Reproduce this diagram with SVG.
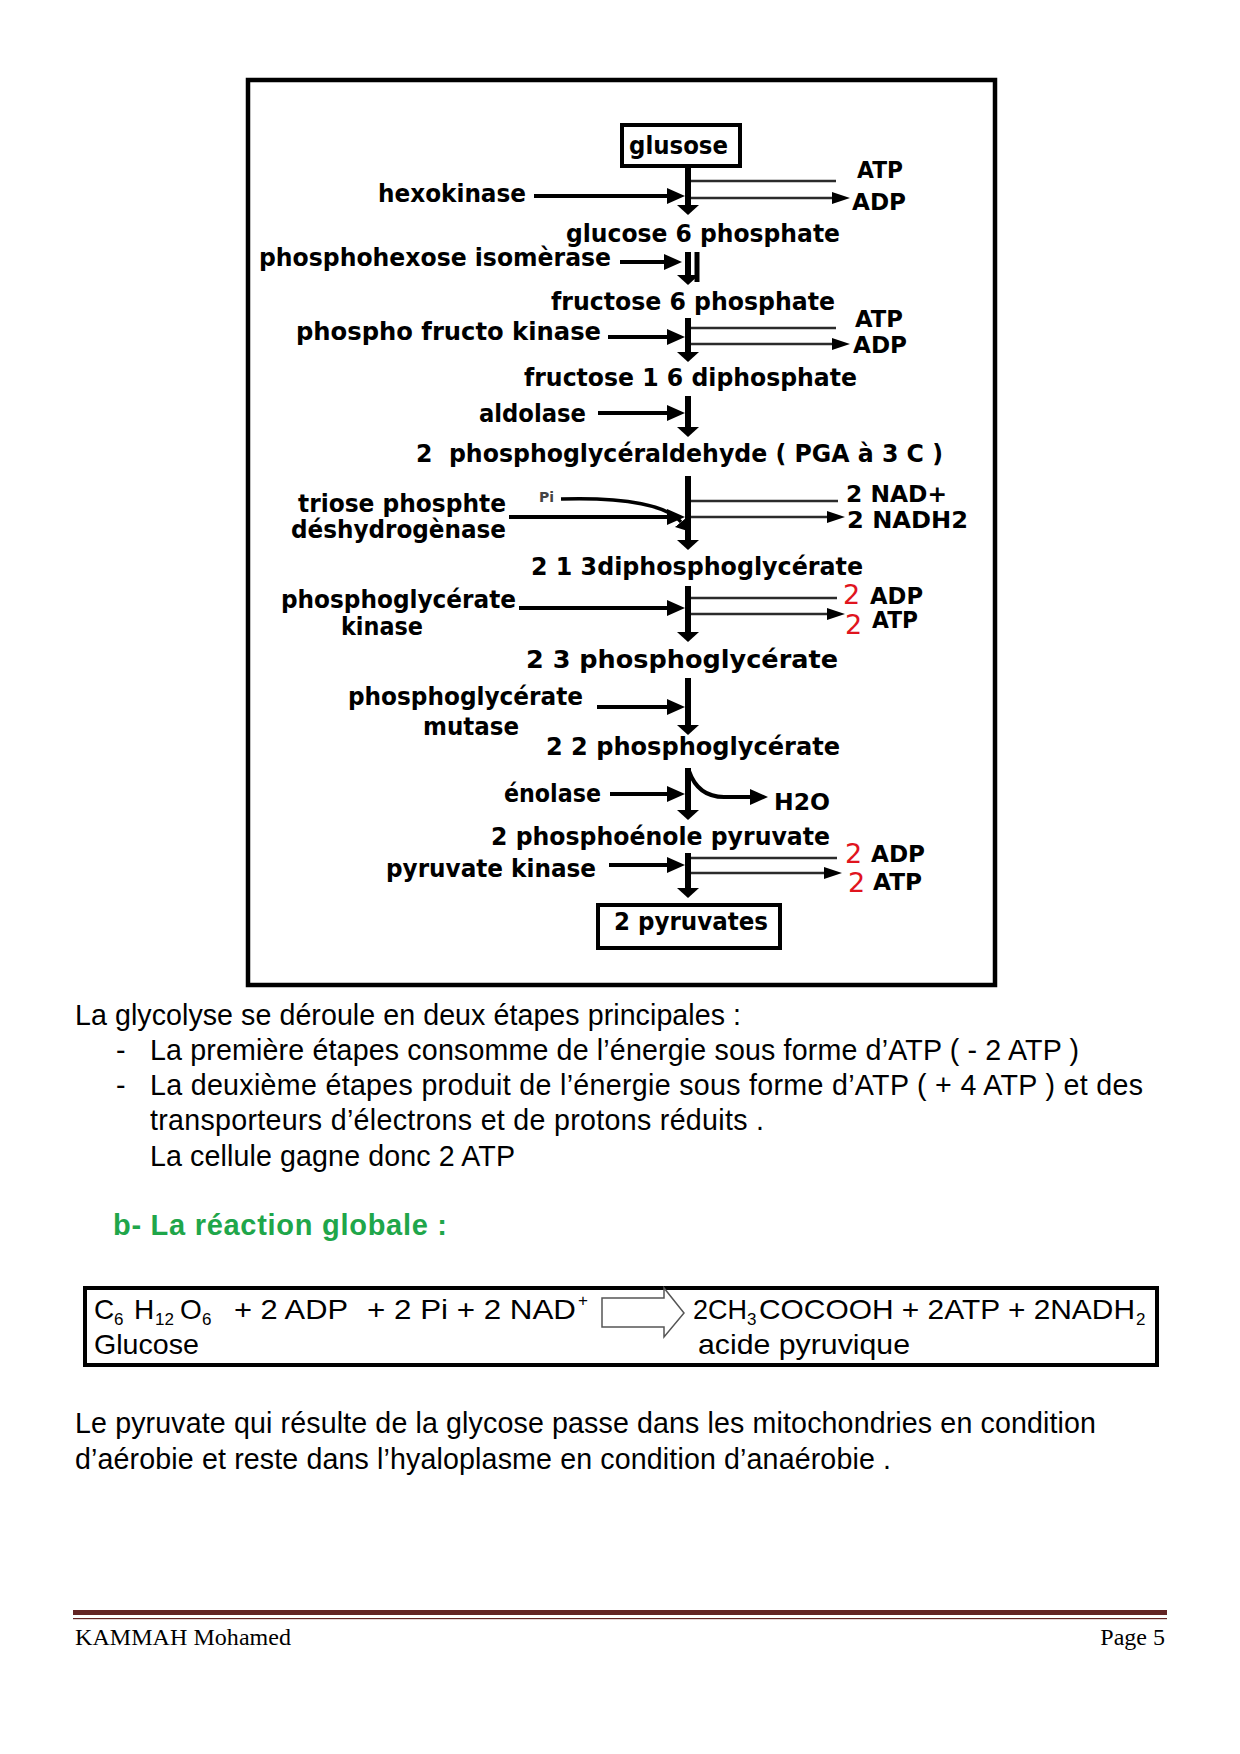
<svg xmlns="http://www.w3.org/2000/svg" width="1240" height="1754" viewBox="0 0 1240 1754">
<style>
.lb{font-family:"DejaVu Sans",sans-serif;font-weight:bold;font-size:24px;fill:#000}
.rs{font-family:"DejaVu Sans",sans-serif;font-weight:bold;font-size:23px;fill:#000}
.red{font-family:"DejaVu Sans",sans-serif;font-size:27px;fill:#e0141e}
.pi{font-family:"DejaVu Sans",sans-serif;font-weight:bold;font-size:14px;fill:#444}
.body{font-family:"Liberation Sans",Arial,sans-serif;font-size:28.6px;fill:#000}
.grn{font-family:"Liberation Sans",Arial,sans-serif;font-weight:bold;font-size:29px;fill:#1fa64a}
.rx{font-family:"Liberation Sans",Arial,sans-serif;font-size:28px;fill:#000}
.sub{font-size:17px}
.ft{font-family:"Liberation Serif","Times New Roman",serif;font-size:24px;fill:#000}
.box{fill:none;stroke:#000;stroke-width:4}
.enz{stroke:#000;stroke-width:4;fill:none}
.ax{stroke:#000;stroke-width:6;fill:none}
.thin{stroke:#2b2b2b;stroke-width:2.5;fill:none}
</style>
<defs>
<marker id="mE" markerUnits="userSpaceOnUse" markerWidth="18" markerHeight="16" viewBox="0 0 18 16" refX="0" refY="8" orient="auto"><path d="M0,0 L18,8 L0,16 z" fill="#000"/></marker>
<marker id="mV" markerUnits="userSpaceOnUse" markerWidth="10" markerHeight="22" viewBox="0 0 10 22" refX="0" refY="11" orient="auto"><path d="M0,0 L10,11 L0,22 z" fill="#000"/></marker>
<marker id="mT" markerUnits="userSpaceOnUse" markerWidth="18" markerHeight="12" viewBox="0 0 18 12" refX="0" refY="6" orient="auto"><path d="M0,0 L18,6 L0,12 z" fill="#000"/></marker>
<marker id="mC" markerUnits="userSpaceOnUse" markerWidth="12" markerHeight="16" viewBox="0 0 12 16" refX="0" refY="8" orient="auto"><path d="M0,0 L12,8 L0,16 z" fill="#000"/></marker>
</defs>
<rect width="1240" height="1754" fill="#fff"/>

<rect id="frame" x="248" y="80" width="747" height="905" fill="none" stroke="#000" stroke-width="4.5"/>

<g id="connectors">
  <line class="ax" x1="688" y1="168" x2="688" y2="205" marker-end="url(#mV)"/>
  <line class="ax" x1="688" y1="252" x2="688" y2="275" marker-end="url(#mV)"/>
  <line stroke="#000" stroke-width="5" x1="697" y1="252" x2="697" y2="282"/>
  <line class="ax" x1="688" y1="318" x2="688" y2="352" marker-end="url(#mV)"/>
  <line class="ax" x1="688" y1="396" x2="688" y2="427" marker-end="url(#mV)"/>
  <line class="ax" x1="688" y1="476" x2="688" y2="540" marker-end="url(#mV)"/>
  <line class="ax" x1="688" y1="586" x2="688" y2="632" marker-end="url(#mV)"/>
  <line class="ax" x1="688" y1="678" x2="688" y2="725" marker-end="url(#mV)"/>
  <line class="ax" x1="688" y1="768" x2="688" y2="810" marker-end="url(#mV)"/>
  <line class="ax" x1="688" y1="853" x2="688" y2="888" marker-end="url(#mV)"/>

  <line class="enz" x1="534" y1="196" x2="667" y2="196" marker-end="url(#mE)"/>
  <line class="enz" x1="620" y1="262" x2="664" y2="262" marker-end="url(#mE)"/>
  <line class="enz" x1="608" y1="337" x2="667" y2="337" marker-end="url(#mE)"/>
  <line class="enz" x1="598" y1="413" x2="667" y2="413" marker-end="url(#mE)"/>
  <line class="enz" x1="509" y1="517" x2="667" y2="517" marker-end="url(#mE)"/>
  <line class="enz" x1="519" y1="608" x2="667" y2="608" marker-end="url(#mE)"/>
  <line class="enz" x1="597" y1="707" x2="667" y2="707" marker-end="url(#mE)"/>
  <line class="enz" x1="610" y1="794" x2="667" y2="794" marker-end="url(#mE)"/>
  <line class="enz" x1="609" y1="865" x2="667" y2="865" marker-end="url(#mE)"/>

  <line class="thin" x1="691" y1="181" x2="836" y2="181"/>
  <line class="thin" x1="691" y1="198" x2="832" y2="198" marker-end="url(#mT)"/>
  <line class="thin" x1="691" y1="328" x2="836" y2="328"/>
  <line class="thin" x1="691" y1="344" x2="832" y2="344" marker-end="url(#mT)"/>
  <line class="thin" x1="691" y1="501" x2="838" y2="501"/>
  <line class="thin" x1="691" y1="517" x2="827" y2="517" marker-end="url(#mT)"/>
  <line class="thin" x1="691" y1="598" x2="837" y2="598"/>
  <line class="thin" x1="691" y1="614" x2="827" y2="614" marker-end="url(#mT)"/>
  <line class="thin" x1="691" y1="858" x2="837" y2="858"/>
  <line class="thin" x1="691" y1="873" x2="824" y2="873" marker-end="url(#mT)"/>

  <path d="M561,499 C628,497 668,506 681,522" stroke="#000" stroke-width="3.5" fill="none" marker-end="url(#mC)"/>
  <path d="M689,771 Q698,797 724,797 L750,797" class="enz" marker-end="url(#mE)"/>
</g>

<g id="n-glusose"><rect class="box" x="622" y="125" width="118" height="41"/><text class="lb" x="629" y="154" textLength="99" lengthAdjust="spacingAndGlyphs">glusose</text></g>
<g id="n-g6p"><text class="lb" x="566" y="242" textLength="274" lengthAdjust="spacingAndGlyphs">glucose 6 phosphate</text></g>
<g id="n-f6p"><text class="lb" x="551" y="310" textLength="284" lengthAdjust="spacingAndGlyphs">fructose 6 phosphate</text></g>
<g id="n-f16dp"><text class="lb" x="524" y="386" textLength="333" lengthAdjust="spacingAndGlyphs">fructose 1 6 diphosphate</text></g>
<g id="n-pgal"><text class="lb" x="416" y="462" textLength="527" lengthAdjust="spacingAndGlyphs">2&#160; phosphoglycéraldehyde ( PGA à 3 C )</text></g>
<g id="n-13dpg"><text class="lb" x="531" y="575" textLength="332" lengthAdjust="spacingAndGlyphs">2 1 3diphosphoglycérate</text></g>
<g id="n-3pg"><text class="lb" x="526" y="668" textLength="312" lengthAdjust="spacingAndGlyphs">2 3 phosphoglycérate</text></g>
<g id="n-2pg"><text class="lb" x="546" y="755" textLength="294" lengthAdjust="spacingAndGlyphs">2 2 phosphoglycérate</text></g>
<g id="n-pep"><text class="lb" x="491" y="845" textLength="339" lengthAdjust="spacingAndGlyphs">2 phosphoénole pyruvate</text></g>
<g id="n-pyr"><rect class="box" x="598" y="905" width="182" height="43"/><text class="lb" x="614" y="930" textLength="154" lengthAdjust="spacingAndGlyphs">2 pyruvates</text></g>

<g id="e-hexokinase"><text class="lb" x="378" y="202" textLength="148" lengthAdjust="spacingAndGlyphs">hexokinase</text></g>
<g id="e-phi"><text class="lb" x="259" y="266" textLength="352" lengthAdjust="spacingAndGlyphs">phosphohexose isomèrase</text></g>
<g id="e-pfk"><text class="lb" x="296" y="340" textLength="305" lengthAdjust="spacingAndGlyphs">phospho fructo kinase</text></g>
<g id="e-aldolase"><text class="lb" x="479" y="422" textLength="107" lengthAdjust="spacingAndGlyphs">aldolase</text></g>
<g id="e-tpd"><text class="lb" x="298" y="512" textLength="208" lengthAdjust="spacingAndGlyphs">triose phosphte</text><text class="lb" x="291" y="538" textLength="215" lengthAdjust="spacingAndGlyphs">déshydrogènase</text></g>
<g id="e-pgk"><text class="lb" x="281" y="608" textLength="235" lengthAdjust="spacingAndGlyphs">phosphoglycérate</text><text class="lb" x="341" y="635" textLength="82" lengthAdjust="spacingAndGlyphs">kinase</text></g>
<g id="e-pgm"><text class="lb" x="348" y="705" textLength="235" lengthAdjust="spacingAndGlyphs">phosphoglycérate</text><text class="lb" x="423" y="735" textLength="96" lengthAdjust="spacingAndGlyphs">mutase</text></g>
<g id="e-enolase"><text class="lb" x="504" y="802" textLength="97" lengthAdjust="spacingAndGlyphs">énolase</text></g>
<g id="e-pk"><text class="lb" x="386" y="877" textLength="210" lengthAdjust="spacingAndGlyphs">pyruvate kinase</text></g>

<g id="s-1"><text class="rs" x="857" y="178" textLength="46" lengthAdjust="spacingAndGlyphs">ATP</text><text class="rs" x="852" y="210" textLength="54" lengthAdjust="spacingAndGlyphs">ADP</text></g>
<g id="s-2"><text class="rs" x="855" y="327" textLength="48" lengthAdjust="spacingAndGlyphs">ATP</text><text class="rs" x="853" y="353" textLength="54" lengthAdjust="spacingAndGlyphs">ADP</text></g>
<g id="s-3"><text class="pi" x="539" y="502">Pi</text><text class="rs" x="846" y="502" textLength="101" lengthAdjust="spacingAndGlyphs">2 NAD+</text><text class="rs" x="847" y="528" textLength="121" lengthAdjust="spacingAndGlyphs">2 NADH2</text></g>
<g id="s-4"><text class="red"><tspan x="843" y="604">2</tspan><tspan x="845" y="634">2</tspan></text><text class="rs" x="870" y="604" textLength="53" lengthAdjust="spacingAndGlyphs">ADP</text><text class="rs" x="872" y="628" textLength="46" lengthAdjust="spacingAndGlyphs">ATP</text></g>
<g id="s-5"><text class="rs" x="774" y="810" textLength="56" lengthAdjust="spacingAndGlyphs">H2O</text></g>
<g id="s-6"><text class="red"><tspan x="845" y="863">2</tspan><tspan x="848" y="892">2</tspan></text><text class="rs" x="871" y="862" textLength="54" lengthAdjust="spacingAndGlyphs">ADP</text><text class="rs" x="873" y="890" textLength="49" lengthAdjust="spacingAndGlyphs">ATP</text></g>

<g id="body">
<text class="body" x="75" y="1025" textLength="666">La glycolyse se déroule en deux étapes principales :</text>
<text class="body" x="116" y="1060">-</text>
<text class="body" x="150" y="1060" textLength="929">La première étapes consomme de l’énergie sous forme d’ATP ( - 2 ATP )</text>
<text class="body" x="116" y="1095">-</text>
<text class="body" x="150" y="1095" textLength="993">La deuxième étapes produit de l’énergie sous forme d’ATP ( + 4 ATP ) et des</text>
<text class="body" x="150" y="1130" textLength="614">transporteurs d’électrons et de protons réduits .</text>
<text class="body" x="150" y="1166" textLength="365">La cellule gagne donc 2 ATP</text>
<text class="grn" x="113" y="1235" textLength="334">b- La réaction globale :</text>
</g>

<g id="reaction">
<rect x="85" y="1288" width="1072" height="77" fill="none" stroke="#000" stroke-width="4"/>
<text class="rx"><tspan x="94" y="1319">C</tspan><tspan class="sub" x="114" y="1325">6</tspan><tspan x="134" y="1319">H</tspan><tspan class="sub" x="155" y="1325">12</tspan><tspan x="180" y="1319">O</tspan><tspan class="sub" x="202" y="1325">6</tspan></text>
<text class="rx" x="234" y="1319" textLength="114" lengthAdjust="spacingAndGlyphs">+ 2 ADP</text>
<text class="rx"><tspan x="367" y="1319" textLength="209" lengthAdjust="spacingAndGlyphs">+ 2 Pi + 2 NAD</tspan><tspan class="sub" x="578" y="1306">+</tspan></text>
<path d="M602,1298 L664,1298 L664,1288 L684,1313 L664,1337 L664,1327 L602,1327 Z" fill="#fff" stroke="#555" stroke-width="1.5"/>
<text class="rx"><tspan x="693" y="1319" textLength="54" lengthAdjust="spacingAndGlyphs">2CH</tspan><tspan class="sub" x="747" y="1325">3</tspan><tspan x="759" y="1319" textLength="376" lengthAdjust="spacingAndGlyphs">COCOOH + 2ATP + 2NADH</tspan><tspan class="sub" x="1136" y="1325">2</tspan></text>
<text class="rx" x="94" y="1354" textLength="105" lengthAdjust="spacingAndGlyphs">Glucose</text>
<text class="rx" x="698" y="1354" textLength="212" lengthAdjust="spacingAndGlyphs">acide pyruvique</text>
</g>

<g id="conclusion">
<text class="body" x="75" y="1433" textLength="1021">Le pyruvate qui résulte de la glycose passe dans les mitochondries en condition</text>
<text class="body" x="75" y="1469" textLength="816">d’aérobie et reste dans l’hyaloplasme en condition d’anaérobie .</text>
</g>

<g id="footer">
<rect x="73" y="1610" width="1094" height="5" fill="#632423"/>
<rect x="73" y="1618" width="1094" height="1.2" fill="#632423"/>
<text class="ft" x="75" y="1645" textLength="216">KAMMAH Mohamed</text>
<text class="ft" x="1165" y="1645" text-anchor="end">Page 5</text>
</g>
</svg>
